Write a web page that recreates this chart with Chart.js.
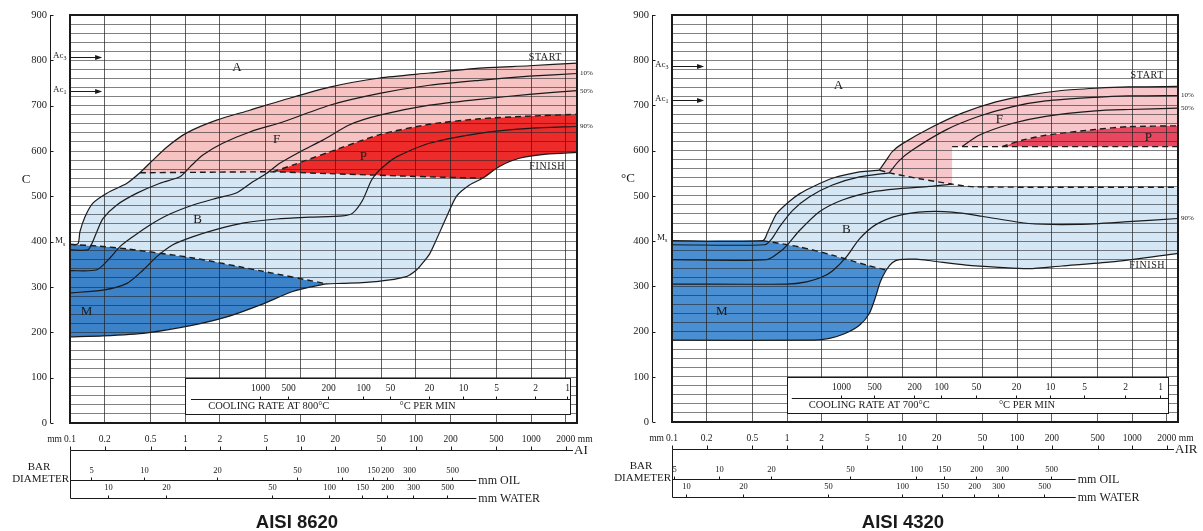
<!DOCTYPE html>
<html>
<head>
<meta charset="utf-8">
<title>CCT diagrams - AISI 8620 / AISI 4320</title>
<script src="https://cdn.jsdelivr.net/npm/chart.js@4.4.1/dist/chart.umd.min.js"></script>
<style>
  html, body { margin: 0; padding: 0; background: #fff; }
  #wrap { position: relative; width: 1203px; height: 531px; overflow: hidden; }
  canvas { position: absolute; top: 0; }
  #c8620 { left: 0; }
  #c4320 { left: 600px; }
</style>
</head>
<body>
<div id="wrap">
  <canvas id="c8620" width="600" height="531"></canvas>
  <canvas id="c4320" width="603" height="531"></canvas>
</div>
<script>
// Bar diameter cooled in air (mm, log axis) vs temperature (°C)
const airTicks = [0.1, 0.2, 0.5, 1, 2, 5, 10, 20, 50, 100, 200, 500, 1000, 2000];
const airMax = 2500;

// ---------- AISI 8620 : [mm in air, °C] ----------
const start8620 = [[0.1,394],[0.117,395],[0.122,422],[0.135,455],[0.158,485],[0.209,507],[0.312,529],[0.404,552],[0.524,580],[0.694,609],[1.03,640],[1.87,668],[3.63,690],[7.0,712],[17.9,741],[48.5,761],[131,772],[356,783],[965,788],[2500,794]];
const pct10_8620 = [[0.1,382],[0.143,382],[0.155,396],[0.171,422],[0.193,451],[0.255,481],[0.381,507],[0.603,529],[0.898,543],[1.1,565],[1.42,591],[2.11,617],[3.63,642],[7.0,664],[17.9,701],[48.5,727],[131,745],[356,756],[965,765],[2500,771]];
const pct50_8620 = [[0.1,336],[0.171,338],[0.222,364],[0.271,389],[0.351,411],[0.494,437],[0.736,461],[1.17,481],[1.87,496],[2.8,508],[3.85,532],[5.09,551],[6.6,573],[9.83,598],[15.6,624],[26.7,658],[48.5,679],[131,701],[356,714],[965,725],[2500,733]];
const pct90_8620 = [[0.1,287],[0.193,293],[0.312,308],[0.429,337],[0.567,367],[0.781,393],[1.17,411],[1.87,427],[3.15,441],[6.21,450],[12,454],[23.2,457],[28.3,463],[34.6,492],[41.3,536],[48.5,558],[68,587],[131,617],[356,639],[965,650],[2500,654]];
const finish8620 = [[0.1,190],[0.193,192],[0.465,199],[1.17,216],[2.29,234],[4.43,260],[8.55,290],[12.7,301],[16.9,307],[23.2,308],[45.4,312],[82.8,323],[102,338],[114,352],[131,372],[148,400],[185,455],[225,500],[292,525],[378,540],[531,566],[791,584],[1350,593],[2500,597]];
const ms8620 = [[0.1,394],[0.182,390],[0.312,384],[1.17,364],[4.43,336],[16.9,307]];
const bainiteTop8620 = [[0.404,552],[1.34,553],[5.73,554],[17.9,550],[131,543],[378,540]];
const pearliteTop8620 = [[5.73,554],[8.55,569],[17.9,598],[48.5,636],[131,659],[356,671],[965,677],[2500,681]];
const ac3_8620 = 807, ac1_8620 = 732;
const fields8620 = [['A',2.8,783],['F',6.2,626],['P',35,587],['B',1.28,448],['M',0.139,245]];
const curveNames8620 = [['START',1330,807],['FINISH',1380,567]];
const rate8620 = [1000,500,200,100,50,20,10,5,2,1];
const rateAir8620 = [4.43,7.74,17.2,34.6,59.2,131,254,500,1090,2050];
const oil8620 = [5,10,20,50,100,150,200,300,500];
const oilAir8620 = [0.152,0.438,1.87,9.26,22.7,42.1,55.8,86.5,204];
const water8620 = [10,20,50,100,150,200,300,500];
const waterAir8620 = [0.213,0.68,5.62,17.5,33.8,55.8,93.7,188];

// ---------- AISI 4320 : [mm in air, °C] ----------
const startB4320 = [[0.1,401],[0.615,401],[0.679,420],[0.736,440],[0.813,461],[1.05,488],[1.29,505],[1.73,522],[2.48,539],[4.26,553],[6.34,557]];
const startF4320 = [[6.34,557],[7.29,579],[8.21,598],[10,615],[17.2,649],[33.2,683],[65.4,708],[126,723],[244,733],[480,738],[928,741],[2500,742]];
const pct10B4320 = [[0.1,392],[0.64,392],[0.736,405],[0.863,432],[1.12,468],[1.57,498],[2.48,524],[4.26,542],[7.73,551]];
const pct10F4320 = [[7.73,551],[9.44,578],[12.2,601],[24.1,646],[46.6,676],[90,697],[177,710],[480,718],[928,721],[2500,722]];
const pct50B4320 = [[0.1,359],[0.666,359],[0.863,376],[0.992,390],[1.29,424],[1.91,465],[3.03,491],[5.51,509],[9.44,516],[17.2,521],[27.2,526]];
const pct50F4320 = [[33.2,609],[46.6,634],[90,660],[177,676],[480,688],[928,691],[2500,694]];
const pct90_4320 = [[0.1,305],[0.992,305],[1.48,310],[1.99,320],[2.48,334],[3.28,365],[4.26,405],[5.96,437],[9.44,457],[16.3,465],[27.2,464],[49.5,455],[126,439],[343,437],[928,443],[2500,450]];
const finish4320 = [[0.1,181],[1.73,181],[2.34,185],[3.15,195],[4.26,214],[5.19,240],[5.85,275],[6.47,310],[7.29,336],[8.21,352],[9.44,359],[13.3,360],[18.3,356],[36,347],[69.4,342],[126,339],[244,345],[661,354],[2500,373]];
const ms4320 = [[0.615,401],[1.29,387],[2.48,369],[4.9,347],[7.29,336]];
const bainiteTop4320 = [[6.34,557],[7.73,551],[14.1,538],[27.2,526],[42.1,520],[2500,519]];
const pearliteBase4320 = [[27.2,609],[2500,609]];
const pearliteTop4320 = [[73.7,609],[110,623],[177,634],[480,647],[928,653],[2500,655]];
const ac3_4320 = 787, ac1_4320 = 713;
const fields4320 = [['A',2.8,745],['F',70,668],['P',1380,628],['B',3.28,426],['M',0.271,245]];
const curveNames4320 = [['START',1350,767],['FINISH',1350,346]];
const rate4320 = [1000,500,200,100,50,20,10,5,2,1];
const rateAir4320 = [2.97,5.73,12.7,21.8,43.6,97.5,192,378,874,1755];
const oil4320 = [5,10,20,50,100,150,200,300,500];
const oilAir4320 = [0.104,0.255,0.721,3.49,13.3,23.2,43.6,73.7,196];
const water4320 = [10,20,50,100,150,200,300,500];
const waterAir4320 = [0.132,0.412,2.29,10.0,22.2,42.1,68.0,170];

// ---------- helpers ----------
const ink = '#1a1a1a';
const gridInk = 'rgba(35,35,35,0.72)';
const serif = "'Liberation Serif', 'DejaVu Serif', serif";

function seg(curve, lo, hi) {
  return curve.filter(p => p[0] >= lo * 0.9999 && p[0] <= hi * 1.0001);
}
function poly(...parts) {
  const out = [];
  parts.flat().forEach(p => {
    const last = out[out.length - 1];
    if (!last || last[0] !== p[0] || last[1] !== p[1]) out.push(p);
  });
  return out;
}
const toXY = pts => pts.map(([x, y]) => ({ x, y }));

function edge(pts, tension) {
  return {
    data: toXY(pts), borderWidth: 0, borderColor: 'transparent', backgroundColor: 'transparent',
    pointRadius: 0, fill: false, tension: tension === undefined ? 0.25 : tension, order: 1
  };
}

function decorations(p) {
  return {
    id: 'cctDecor',
    afterDraw(chart) {
      const { ctx, chartArea: a } = chart;
      const X = v => chart.scales.x.getPixelForValue(v);
      const Y = v => chart.scales.y.getPixelForValue(v);
      const ln = (x0, y0, x1, y1) => { ctx.beginPath(); ctx.moveTo(x0, y0); ctx.lineTo(x1, y1); ctx.stroke(); };
      const txt = (s, x, y, size, align) => {
        ctx.font = size + 'px ' + serif;
        ctx.textAlign = align || 'center';
        ctx.fillText(s, x, y);
      };
      const sub = (base, small, x, y, size) => {
        txt(base, x, y, size, 'left');
        const w = ctx.measureText(base).width;
        txt(small, x + w, y + size * 0.35, Math.round(size * 0.7), 'left');
      };
      const px = v => Math.round(v) + 0.5;

      ctx.save();
      ctx.strokeStyle = ink;
      ctx.fillStyle = ink;
      ctx.textBaseline = 'middle';
      ctx.lineWidth = 1;

      // cooling rate inset
      const bx0 = Math.round(X(1)), bx1 = Math.round(X(p.rateBoxEnd));
      const by0 = Math.round(Y(100)), by1 = Math.round(Y(20));
      ctx.fillStyle = '#fff';
      ctx.fillRect(bx0, by0, bx1 - bx0, by1 - by0);
      ctx.fillStyle = ink;
      ctx.strokeRect(bx0 + 0.5, by0 + 0.5, bx1 - bx0, by1 - by0);
      const ry = px(Y(52));
      ln(X(p.rateLineStart), ry, bx1, ry);
      p.rate.forEach((r, i) => {
        const rx = px(X(p.rateAir[i]));
        ln(rx, ry, rx, ry - 3);
        txt(String(r), rx, Y(77), 9.5);
      });
      txt(p.rateTitle, X(p.rateTitleAt), Y(37), 10.5, 'left');
      txt('°C PER MIN', X(p.rateUnitAt), Y(37), 10.5, 'left');

      // frame
      ctx.lineWidth = 2;
      ctx.strokeRect(a.left, a.top, a.right - a.left, a.bottom - a.top);
      ctx.lineWidth = 1;

      // temperature axis
      const yx = a.left - 20 + 0.5;
      ln(yx, Y(900), yx, Y(0));
      for (let t = 0; t <= 900; t += 100) ln(yx, px(Y(t)), yx + 3, px(Y(t)));
      txt(p.yTitle, a.left - 44, Y(538), 13);

      // Ac3 / Ac1 arrows, Ms
      [[p.ac3, '3'], [p.ac1, '1']].forEach(([t, n]) => {
        const ty = px(Y(t)), xe = X(0.19);
        ln(a.left, ty, xe - 4, ty);
        ctx.beginPath();
        ctx.moveTo(xe, ty); ctx.lineTo(xe - 7, ty - 2.5); ctx.lineTo(xe - 7, ty + 2.5);
        ctx.closePath(); ctx.fill();
        sub('Ac', n, a.left - 17, ty - 2, 9);
      });
      sub('M', 's', a.left - 15, Y(p.msAt) - 2, 9);

      // field letters and curve names
      p.fields.forEach(([s, v, t]) => txt(s, X(v), Y(t), 13));
      ctx.letterSpacing = '0.6px';
      p.curveNames.forEach(([s, v, t]) => txt(s, X(v), Y(t), 10));
      ctx.letterSpacing = '0px';
      p.endLabels.forEach(([pts, s]) => txt(s, a.right + 3, Y(pts[pts.length - 1][1]), 7, 'left'));

      // bar diameter scales (air / oil / water)
      const ay = a.bottom + 27.5, oy = a.bottom + 57.5, wy = a.bottom + 75.5;
      const lx = a.left + 0.5;
      ln(lx, ay, a.right - 4, ay);
      airTicks.forEach(v => { const tx = px(X(v)); ln(tx, ay, tx, ay - 4); });
      const ly = a.bottom + 16.7;
      txt('mm', a.left - 8, ly, 9.5, 'right');
      txt('mm', X(airTicks[airTicks.length - 1]) + 12, ly, 9.5, 'left');
      txt(p.airText, a.right - 3, ay, 13, 'left');
      ln(lx, ay, lx, wy);
      const oe = X(p.oilEnd);
      ln(lx, oy, oe, oy);
      ln(lx, wy, oe, wy);
      p.oil.forEach((v, i) => { const tx = px(X(p.oilAir[i])); ln(tx, oy, tx, oy - 3); txt(String(v), tx, oy - 10, 8.5); });
      p.water.forEach((v, i) => { const tx = px(X(p.waterAir[i])); ln(tx, wy, tx, wy - 3); txt(String(v), tx, wy - 10.5, 8.5); });
      txt('mm OIL', oe + 2, oy, 12, 'left');
      txt('mm WATER', oe + 2, wy, 12, 'left');
      txt('BAR', a.left - 31, a.bottom + 44, 11);
      txt('DIAMETER', a.left - 1, a.bottom + 56.5, 11, 'right');

      // steel grade
      ctx.font = 'bold 18.5px "Liberation Sans", Arial, sans-serif';
      ctx.textAlign = 'center';
      ctx.textBaseline = 'alphabetic';
      ctx.fillText(p.title, p.titleX, 528);
      ctx.restore();
    }
  };
}

function makeChart(p) {
  const datasets = [];
  p.regions.forEach(r => {
    const t = datasets.length;
    datasets.push(edge(r.to, r.toTension));
    datasets.push(Object.assign(edge(r.from, r.fromTension), { fill: t, backgroundColor: r.color }));
  });
  p.lines.forEach(l => datasets.push({
    data: toXY(l.pts), borderColor: ink, borderWidth: l.dash ? 1.4 : 1.2,
    borderDash: l.dash ? [6, 4] : [], pointRadius: 0, fill: false, tension: 0.25, order: 0
  }));

  return new Chart(document.getElementById(p.canvas), {
    type: 'line',
    data: { datasets },
    options: {
      responsive: false,
      animation: false,
      events: [],
      layout: { padding: { left: 0, top: p.padTop, right: p.padRight, bottom: 0 } },
      plugins: { legend: { display: false }, tooltip: { enabled: false } },
      scales: {
        x: {
          type: 'logarithmic', min: airTicks[0], max: airMax, bounds: 'data',
          afterBuildTicks: s => { s.ticks = airTicks.map(v => ({ value: v })); },
          afterFit: s => { s.height = p.xHeight; s.paddingLeft = 0; s.paddingRight = 0; },
          grid: { color: gridInk, lineWidth: 1, drawTicks: false, z: 1 },
          border: { display: false },
          ticks: {
            autoSkip: false, maxRotation: 0, minRotation: 0, padding: 11, color: ink,
            font: { family: serif, size: 9.5 }, callback: v => String(v)
          }
        },
        y: {
          type: 'linear', min: 0, max: 900,
          afterFit: s => { s.width = p.yWidth; s.paddingTop = 0; s.paddingBottom = 0; },
          grid: { color: gridInk, lineWidth: 0.8, drawTicks: false, z: 1 },
          border: { display: false },
          ticks: {
            stepSize: 20, maxTicksLimit: 100, autoSkip: false, padding: 23, color: ink,
            font: { family: serif, size: 10.5 }, callback: v => (v % 100 === 0 ? String(v) : '')
          }
        }
      }
    },
    plugins: [decorations(p)]
  });
}

// ---------- AISI 8620 panel ----------
makeChart({
  canvas: 'c8620', yWidth: 70, xHeight: 108, padTop: 15, padRight: 23,
  title: 'AISI 8620', titleX: 297, yTitle: 'C', airText: 'AI',
  ac3: ac3_8620, ac1: ac1_8620, msAt: ms8620[0][1] + 3,
  fields: fields8620, curveNames: curveNames8620,
  rate: rate8620, rateAir: rateAir8620, rateBoxEnd: 2180, rateLineStart: 1.12,
  rateTitle: 'COOLING RATE AT 800°C', rateTitleAt: 1.58, rateUnitAt: 72.2,
  oil: oil8620, oilAir: oilAir8620, water: water8620, waterAir: waterAir8620, oilEnd: 335,
  regions: [
    { from: poly(seg(bainiteTop8620, 0.404, 5.73), pearliteTop8620), to: start8620, color: '#f6c2c2' },
    { from: pearliteTop8620, to: poly(seg(bainiteTop8620, 5.73, 378), seg(finish8620, 378, 2500)), color: '#ee2b2b' },
    { from: poly(seg(start8620, 0.1, 0.404), bainiteTop8620), to: poly(ms8620, seg(finish8620, 16.9, 378)), color: '#d5e6f5' },
    { from: ms8620, to: finish8620, color: '#3b82c8' }
  ],
  lines: [
    { pts: start8620 }, { pts: pct10_8620 }, { pts: pct50_8620 }, { pts: pct90_8620 }, { pts: finish8620 },
    { pts: ms8620, dash: true }, { pts: bainiteTop8620, dash: true }, { pts: pearliteTop8620, dash: true }
  ],
  endLabels: [[pct10_8620, '10%'], [pct50_8620, '50%'], [pct90_8620, '90%']]
});

// ---------- AISI 4320 panel ----------
makeChart({
  canvas: 'c4320', yWidth: 72, xHeight: 109, padTop: 15, padRight: 25,
  title: 'AISI 4320', titleX: 303, yTitle: '°C', airText: 'AIR',
  ac3: ac3_4320, ac1: ac1_4320, msAt: 404,
  fields: fields4320, curveNames: curveNames4320,
  rate: rate4320, rateAir: rateAir4320, rateBoxEnd: 2050, rateLineStart: 1.1,
  rateTitle: 'COOLING RATE AT 700°C', rateTitleAt: 1.54, rateUnitAt: 69.4,
  oil: oil4320, oilAir: oilAir4320, water: water4320, waterAir: waterAir4320, oilEnd: 323,
  regions: [
    { from: poly(seg(bainiteTop4320, 6.34, 27.2), [[27.2, 609]], pearliteTop4320), fromTension: 0, to: startF4320, color: '#f6c6cb' },
    { from: pearliteTop4320, fromTension: 0, to: pearliteBase4320, color: '#e8475f' },
    { from: poly(seg(startB4320, 0.615, 6.34), bainiteTop4320), to: poly(ms4320, seg(finish4320, 7.29, 2500)), color: '#d5e6f5' },
    { from: poly([[0.1, 401]], ms4320), to: finish4320, color: '#4a8fd2' }
  ],
  lines: [
    { pts: startB4320 }, { pts: startF4320 }, { pts: pct10B4320 }, { pts: pct10F4320 },
    { pts: pct50B4320 }, { pts: pct50F4320 }, { pts: pct90_4320 }, { pts: finish4320 },
    { pts: ms4320, dash: true }, { pts: bainiteTop4320, dash: true },
    { pts: pearliteBase4320, dash: true }, { pts: pearliteTop4320, dash: true }
  ],
  endLabels: [[pct10F4320, '10%'], [pct50F4320, '50%'], [pct90_4320, '90%']]
});
</script>
</body>
</html>
